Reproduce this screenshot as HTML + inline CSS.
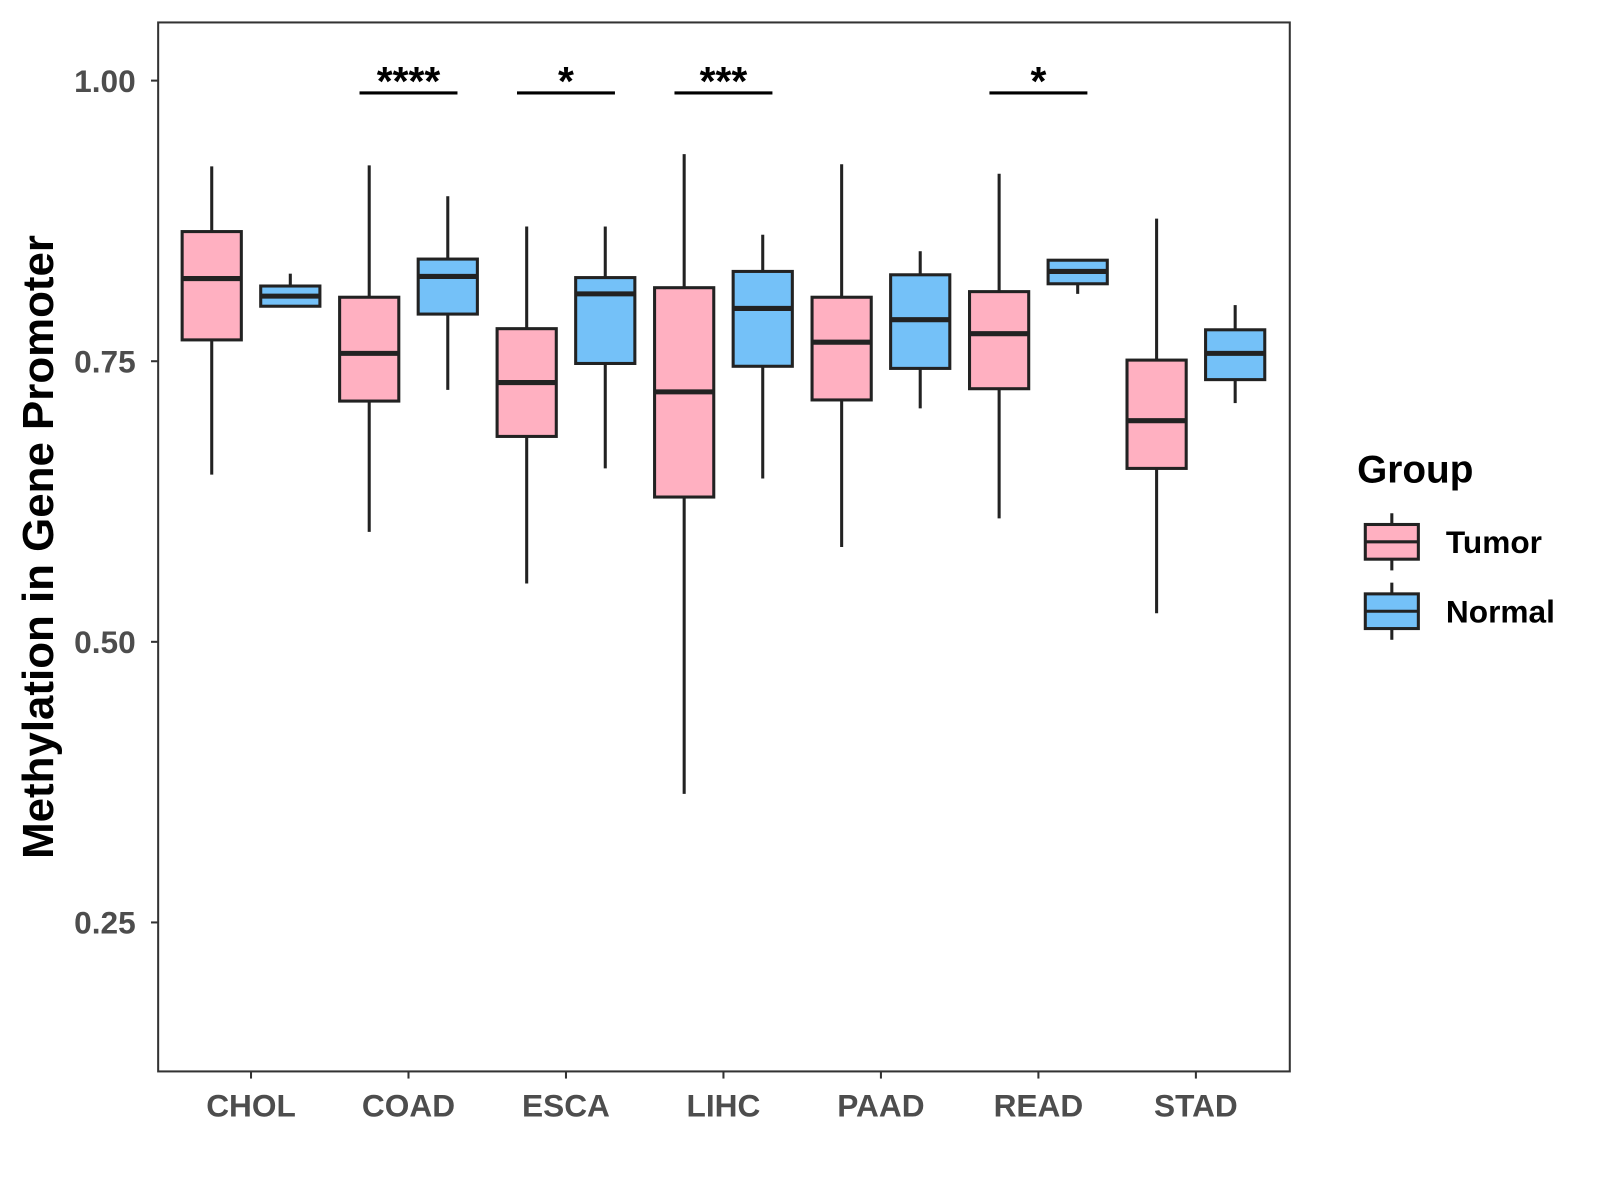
<!DOCTYPE html>
<html><head><meta charset="utf-8"><style>
html,body{margin:0;padding:0;background:#fff;}
svg{display:block;font-family:"Liberation Sans",Arial,sans-serif;}
</style></head><body>
<svg width="1600" height="1200" viewBox="0 0 1600 1200"><g id="chart" transform="scale(1.0204)"></g></svg>
<script>
const categories=["CHOL","COAD","ESCA","LIHC","PAAD","READ","STAD"];
const groups=["Tumor","Normal"];
const tumorStats=[ // [lowerWhisker,q1,median,q3,upperWhisker]
[0.649,0.769,0.8236,0.8655,0.9236],
[0.598,0.7145,0.757,0.807,0.9245],
[0.552,0.683,0.731,0.779,0.87],
[0.3645,0.629,0.7227,0.8155,0.9345],
[0.5845,0.7155,0.767,0.807,0.9255],
[0.61,0.7255,0.7745,0.812,0.917],
[0.5255,0.6545,0.697,0.751,0.877]];
const normalStats=[
[0.799,0.799,0.808,0.817,0.828],
[0.7245,0.792,0.8255,0.841,0.897],
[0.6545,0.748,0.81,0.8245,0.87],
[0.6455,0.7455,0.797,0.83,0.8627],
[0.708,0.7436,0.787,0.827,0.848],
[0.81,0.819,0.83,0.84,0.84],
[0.7127,0.7336,0.757,0.778,0.80]];
const sigCategories=["COAD","ESCA","LIHC","READ"];
const sigLabels=["****","*","***","*"];
const sigLevel=[0.989,0.989,0.989,0.989];
const yTicks=[0.25,0.50,0.75,1.00];
const yTickLabels=["0.25","0.50","0.75","1.00"];
const colors={Tumor:"#FFB0C1",Normal:"#74C1F8"};

const NS="http://www.w3.org/2000/svg";
const svg=document.getElementById("chart");
const P={l:155,r:1264,t:22,b:1050};
const y=v=>79+(1-v)*1100;
const x=i=>246+i*154.33;
function el(tag,attrs,parent){const e=document.createElementNS(NS,tag);for(const k in attrs)e.setAttribute(k,attrs[k]);(parent||svg).appendChild(e);return e;}

const panel=el("rect",{x:P.l,y:P.t,width:P.r-P.l,height:P.b-P.t,fill:"#fff",stroke:"#333","stroke-width":2});



yTicks.forEach((t,i)=>{
  const tk=el("line",{x1:P.l-7,x2:P.l,y1:y(t),y2:y(t),stroke:"#333","stroke-width":2});
  
  
  const tx=el("text",{x:P.l-22,y:y(t)+11,"text-anchor":"end","font-size":31,"font-weight":"bold",fill:"#4d4d4d"});
  tx.textContent=yTickLabels[i];
  
  
});
categories.forEach((c,i)=>{
  const tk=el("line",{x1:x(i),x2:x(i),y1:P.b,y2:P.b+7,stroke:"#333","stroke-width":2});
  
  
  const tx=el("text",{x:x(i),y:1094,"text-anchor":"middle","font-size":31,"font-weight":"bold",fill:"#4d4d4d"});
  tx.textContent=c;
  
  
});
const yt=el("text",{transform:"translate(52,536) rotate(-90)","text-anchor":"middle","font-size":43,"font-weight":"bold",fill:"#000"});
yt.textContent="Methylation in Gene Promoter";



function box(cx,s,fill,w){
  const g=el("g",{});
  
  
  el("line",{x1:cx,x2:cx,y1:y(s[4]),y2:y(s[3]),stroke:"#222","stroke-width":3},g);
  el("line",{x1:cx,x2:cx,y1:y(s[1]),y2:y(s[0]),stroke:"#222","stroke-width":3},g);
  el("rect",{x:cx-w/2,y:y(s[3]),width:w,height:y(s[1])-y(s[3]),fill:fill,stroke:"#222","stroke-width":3},g);
  el("line",{x1:cx-w/2,x2:cx+w/2,y1:y(s[2]),y2:y(s[2]),stroke:"#222","stroke-width":5},g);
  return g;
}
categories.forEach((c,i)=>{
  const a=box(x(i)-38.5,tumorStats[i],colors.Tumor,58);
  
  const b=box(x(i)+38.5,normalStats[i],colors.Normal,58);
  
});
sigCategories.forEach((c,j)=>{
  const i=categories.indexOf(c);
  const ln=el("line",{x1:x(i)-48,x2:x(i)+48,y1:y(sigLevel[j]),y2:y(sigLevel[j]),stroke:"#000","stroke-width":3});
  
  
  const t=el("text",{x:x(i),y:y(sigLevel[j])+2,"text-anchor":"middle","font-size":40,"font-weight":"bold",fill:"#000"});
  t.textContent=sigLabels[j];
  
  
});
const lt=el("text",{x:1330,y:473,"font-size":38,"font-weight":"bold",fill:"#000"});
lt.textContent="Group";


groups.forEach((gname,k)=>{
  const cy=531+k*68;
  const g=el("g",{});
  
  
  el("line",{x1:1364,x2:1364,y1:cy-28,y2:cy+28,stroke:"#222","stroke-width":3},g);
  el("rect",{x:1338,y:cy-17,width:52,height:34,fill:colors[gname],stroke:"#222","stroke-width":3},g);
  el("line",{x1:1338,x2:1390,y1:cy,y2:cy,stroke:"#222","stroke-width":3},g);
  const t=el("text",{x:1417,y:cy+11,"font-size":31,"font-weight":"bold",fill:"#000"},g);
  t.textContent=gname;
});
</script>
</body></html>
